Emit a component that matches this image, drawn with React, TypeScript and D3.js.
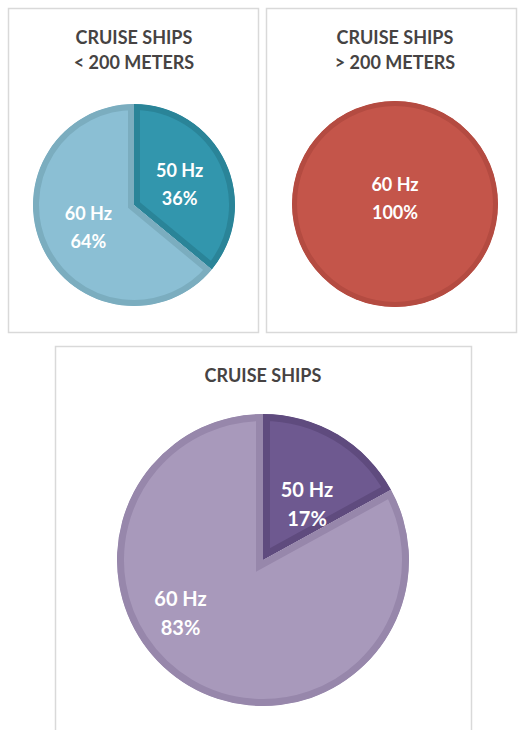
import React from "react";
import * as d3 from "d3";

const W = 518;
const H = 730;

// ---- data ----
const smallShipsTitle = ["CRUISE SHIPS", "< 200 METERS"];
const smallShipsCategories = ["50 Hz", "60 Hz"];
const smallShipsValues = [36, 64];

const largeShipsTitle = ["CRUISE SHIPS", "> 200 METERS"];
const largeShipsCategories = ["60 Hz"];
const largeShipsValues = [100];

const allShipsTitle = ["CRUISE SHIPS"];
const allShipsCategories = ["50 Hz", "60 Hz"];
const allShipsValues = [17, 83];

// ---- layout / style ----
type Panel = {
  id: string;
  frame: { x: number; y: number; w: number; h: number };
  cx: number;
  cy: number;
  r: number;
  title: string[];
  titleY: number;
  titleGap: number;
  categories: string[];
  values: number[];
  fills: string[];
  borders: string[];
  borderW: number;
  labelFont: number;
  labelGap: number;
  // label placement: fraction along the slice's angle span, fraction of radius
  labelPlace: [number, number][];
};

const panels: Panel[] = [
  {
    id: "small",
    frame: { x: 8.5, y: 8.5, w: 250, h: 324 },
    cx: 134,
    cy: 205,
    r: 101,
    title: smallShipsTitle,
    titleY: 44,
    titleGap: 25,
    categories: smallShipsCategories,
    values: smallShipsValues,
    fills: ["#3296ad", "#8bbfd4"],
    borders: ["#2a8498", "#7badbf"],
    borderW: 6,
    labelFont: 18,
    labelGap: 28,
    labelPlace: [
      [0.5, 0.5],
      [0.5, 0.5],
    ],
  },
  {
    id: "large",
    frame: { x: 266.5, y: 8.5, w: 250, h: 324 },
    cx: 395,
    cy: 204,
    r: 103,
    title: largeShipsTitle,
    titleY: 44,
    titleGap: 25,
    categories: largeShipsCategories,
    values: largeShipsValues,
    fills: ["#c4554a"],
    borders: ["#b44b41"],
    borderW: 5,
    labelFont: 18,
    labelGap: 28,
    labelPlace: [[0, 0.06]],
  },
  {
    id: "all",
    frame: { x: 55.5, y: 346.5, w: 416, h: 400 },
    cx: 263,
    cy: 560,
    r: 146,
    title: allShipsTitle,
    titleY: 382,
    titleGap: 25,
    categories: allShipsCategories,
    values: allShipsValues,
    fills: ["#6e5990", "#a899bb"],
    borders: ["#5f4b7e", "#9787ab"],
    borderW: 7,
    labelFont: 20,
    labelGap: 29,
    labelPlace: [
      [0.62, 0.49],
      [0.59, 0.67],
    ],
  },
];

const TITLE_COLOR = "#464343";
const FONT = "Lato, 'Open Sans', sans-serif";

function PiePanel({ p }: { p: Panel }) {
  const pie = d3
    .pie<number>()
    .sort(null)
    .value((d) => d)
    .startAngle(0)
    .endAngle(2 * Math.PI);
  const arcs = pie(p.values);
  const arcGen = d3
    .arc<d3.PieArcDatum<number>>()
    .innerRadius(0)
    .outerRadius(p.r);

  return (
    <g>
      <rect
        x={p.frame.x}
        y={p.frame.y}
        width={p.frame.w}
        height={p.frame.h}
        fill="#fff"
        stroke="#d9d9d9"
        strokeWidth={1.5}
      />
      {p.title.map((t, i) => (
        <text
          key={i}
          x={p.cx}
          y={p.titleY + i * p.titleGap}
          textAnchor="middle"
          fontFamily={FONT}
          fontWeight={700}
          fontSize={18}
          fill={TITLE_COLOR}
        >
          {t}
        </text>
      ))}
      <g transform={`translate(${p.cx},${p.cy})`}>
        <defs>
          {arcs.map((a, i) => (
            <clipPath key={i} id={`clip-${p.id}-${i}`}>
              <path d={arcGen(a) || ""} />
            </clipPath>
          ))}
        </defs>
        {arcs.map((a, i) => (
          <path
            key={i}
            d={arcGen(a) || ""}
            fill={p.fills[i]}
            stroke={p.borders[i]}
            strokeWidth={p.borderW * 2}
            strokeLinejoin="miter"
            clipPath={`url(#clip-${p.id}-${i})`}
          />
        ))}
        {arcs.map((a, i) => {
          const [frac, rf] = p.labelPlace[i];
          const ang = a.startAngle + frac * (a.endAngle - a.startAngle);
          const d = rf * p.r;
          const x = d * Math.sin(ang);
          const y = -d * Math.cos(ang);
          const pct = Math.round((a.value / d3.sum(p.values)) * 100) + "%";
          return (
            <text
              key={`l${i}`}
              x={x}
              y={y}
              textAnchor="middle"
              fontFamily={FONT}
              fontWeight={700}
              fontSize={p.labelFont}
              fill="#ffffff"
            >
              <tspan x={x} y={y - p.labelGap / 2} dominantBaseline="central">
                {p.categories[i]}
              </tspan>
              <tspan x={x} y={y + p.labelGap / 2} dominantBaseline="central">
                {pct}
              </tspan>
            </text>
          );
        })}
      </g>
    </g>
  );
}

export default function App() {
  return (
    <svg
      width={W}
      height={H}
      viewBox={`0 0 ${W} ${H}`}
      style={{ position: "absolute", left: 0, top: 0, display: "block" }}
    >
      <rect x={0} y={0} width={W} height={H} fill="#ffffff" />
      {panels.map((p) => (
        <PiePanel key={p.id} p={p} />
      ))}
    </svg>
  );
}
